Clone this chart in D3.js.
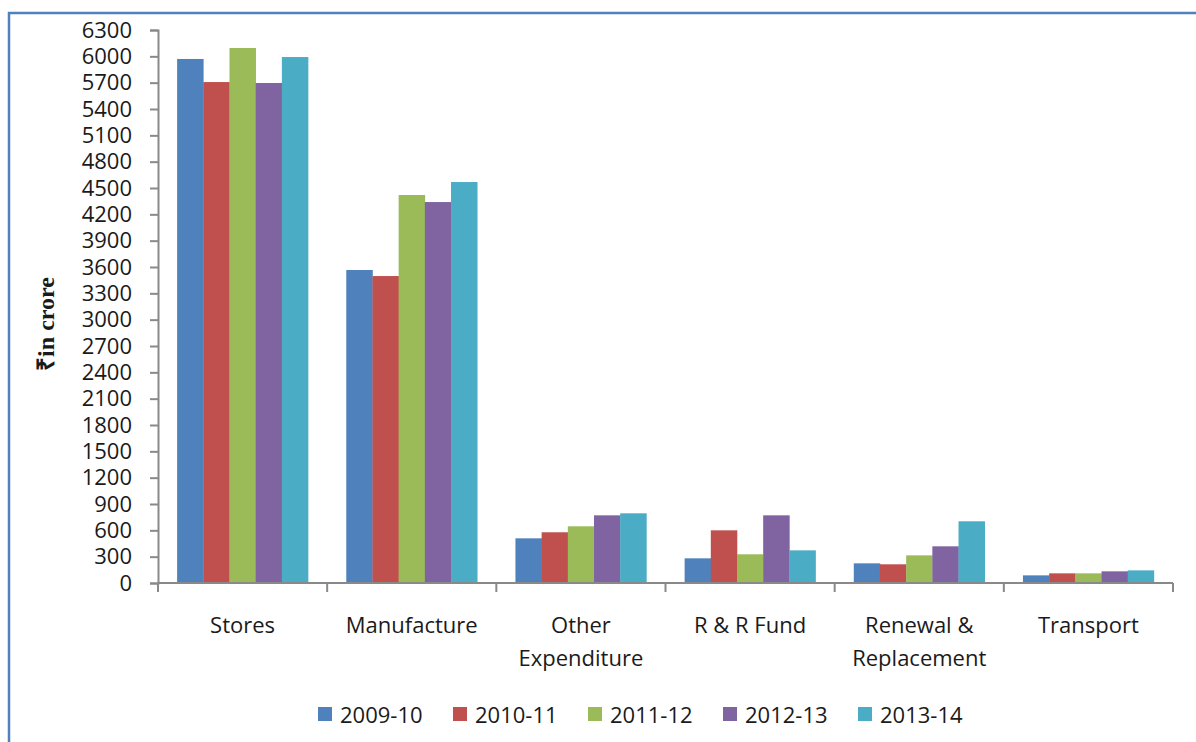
<!DOCTYPE html>
<html>
<head>
<meta charset="utf-8">
<script src="https://cdn.jsdelivr.net/npm/d3@7"></script>
<style>
  body { margin: 0; background: #fff; }
  svg { display: block; }
</style>
</head>
<body>
<div id="chart"></div>
<script>
// chart data
const categories = [['Stores'], ['Manufacture'], ['Other', 'Expenditure'], ['R & R Fund'], ['Renewal &', 'Replacement'], ['Transport']];
const seriesNames = ['2009-10', '2010-11', '2011-12', '2012-13', '2013-14'];
const v2009 = [5970, 3566, 509, 281, 224, 87];
const v2010 = [5707, 3497, 578, 600, 213, 110];
const v2011 = [6095, 4420, 646, 327, 315, 110];
const v2012 = [5696, 4340, 771, 771, 418, 133];
const v2013 = [5992, 4568, 794, 372, 703, 144];
const yTicks = d3.range(0, 6301, 300);
const colors = ['#4f81bd', '#c0504d', '#9bbb59', '#8064a2', '#4bacc6'];

const series = [v2009, v2010, v2011, v2012, v2013];
const font = 'Open Sans, Liberation Sans, Arial, sans-serif';

const width = 1196, height = 742;
const svg = d3.select('#chart').append('svg')
    .attr('width', width)
    .attr('height', height);

// frame border (only top and left show)
svg.append('path')
    .attr('d', `M9,${height} V13 H${width}`)
    .attr('fill', 'none')
    .attr('stroke', '#4f81bd')
    .attr('stroke-width', 2.5);

const plot = { left: 158, right: 1173, top: 30, bottom: 583 };

const x = d3.scaleBand()
    .domain(d3.range(categories.length))
    .range([plot.left, plot.right]);

const xInner = d3.scaleBand()
    .domain(d3.range(seriesNames.length))
    .range([0, x.bandwidth()])
    .paddingOuter(0.73)
    .paddingInner(0);

const y = d3.scaleLinear()
    .domain([0, 6300])
    .range([plot.bottom, plot.top]);

// bars
series.forEach((vals, s) => {
    svg.append('g').selectAll('rect')
        .data(vals)
        .enter()
        .append('rect')
        .attr('x', (d, i) => x(i) + xInner(s))
        .attr('y', d => y(d))
        .attr('width', xInner.bandwidth() + 0.3)
        .attr('height', d => y(0) - y(d))
        .attr('fill', colors[s]);
});

// y axis
const yAxis = svg.append('g')
    .attr('transform', `translate(${plot.left},0)`)
    .call(d3.axisLeft(y).tickValues(yTicks).tickFormat(d3.format('d')).tickSize(8).tickPadding(18));
yAxis.select('.domain').attr('stroke', '#898989').attr('stroke-width', 2);
yAxis.selectAll('.tick line').attr('stroke', '#898989').attr('stroke-width', 2);
yAxis.selectAll('.tick text')
    .attr('fill', '#1a1a1a')
    .style('font-family', font)
    .style('font-size', '22px');

// x axis
const xEdges = d3.range(categories.length + 1).map(i => plot.left + i * x.step());
const xAxis = svg.append('g');
xAxis.append('line')
    .attr('x1', plot.left).attr('x2', plot.right)
    .attr('y1', y(0)).attr('y2', y(0))
    .attr('stroke', '#898989').attr('stroke-width', 2);
xAxis.selectAll('.xtick')
    .data(xEdges)
    .enter()
    .append('line')
    .attr('x1', d => d).attr('x2', d => d)
    .attr('y1', y(0)).attr('y2', y(0) + 9)
    .attr('stroke', '#898989').attr('stroke-width', 2);

const catLabels = svg.append('g')
    .style('font-family', font)
    .style('font-size', '22px')
    .attr('fill', '#1a1a1a');
categories.forEach((lines, i) => {
    const t = catLabels.append('text')
        .attr('text-anchor', 'middle')
        .attr('x', x(i) + x.bandwidth() / 2)
        .attr('y', 633);
    lines.forEach((ln, j) => {
        t.append('tspan')
            .attr('x', x(i) + x.bandwidth() / 2)
            .attr('dy', j === 0 ? 0 : 33)
            .text(ln);
    });
});

// y axis title
svg.append('text')
    .attr('transform', 'translate(54,324) rotate(-90)')
    .attr('text-anchor', 'middle')
    .style('font-family', 'Liberation Serif, Times New Roman, serif')
    .style('font-weight', 'bold')
    .style('font-size', '24px')
    .attr('fill', '#1a1a1a')
    .text('₹in crore');

// legend
const legend = svg.append('g')
    .style('font-family', font)
    .style('font-size', '22px');
seriesNames.forEach((name, i) => {
    const lx = 318 + i * 135;
    legend.append('rect')
        .attr('x', lx).attr('y', 707)
        .attr('width', 14).attr('height', 14)
        .attr('fill', colors[i]);
    legend.append('text')
        .attr('x', lx + 22).attr('y', 723)
        .attr('fill', '#1a1a1a')
        .text(name);
});
</script>
</body>
</html>
